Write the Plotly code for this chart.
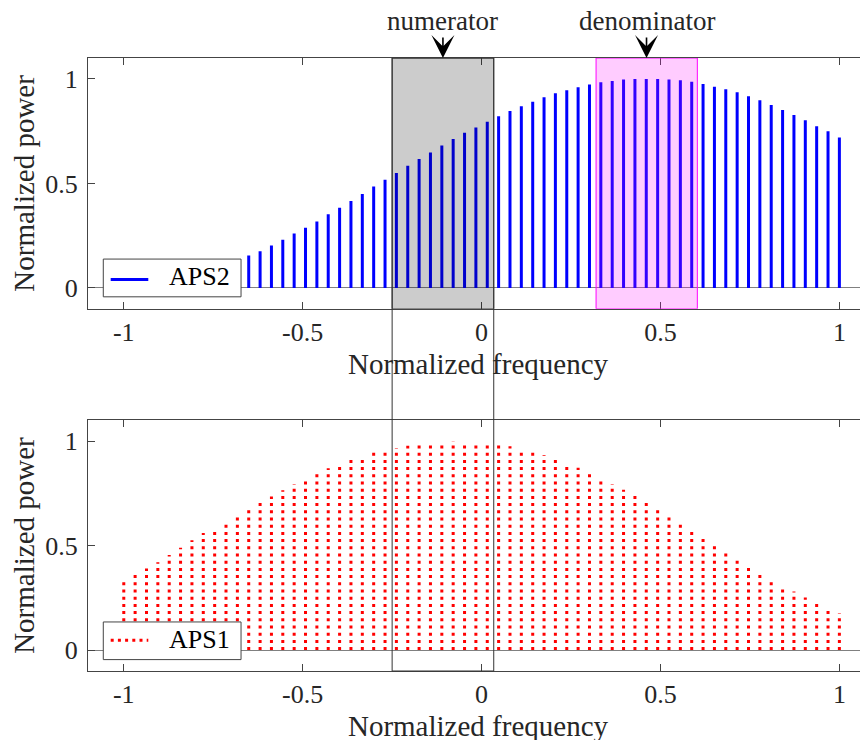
import plotly.graph_objects as go

# Normalized frequency grid (64 samples from -1 to 1)
freq = [-1.0000, -0.9683, -0.9365, -0.9048, -0.8730, -0.8413, -0.8095, -0.7778,
        -0.7460, -0.7143, -0.6825, -0.6508, -0.6190, -0.5873, -0.5556, -0.5238,
        -0.4921, -0.4603, -0.4286, -0.3968, -0.3651, -0.3333, -0.3016, -0.2698,
        -0.2381, -0.2063, -0.1746, -0.1429, -0.1111, -0.0794, -0.0476, -0.0159,
        0.0159, 0.0476, 0.0794, 0.1111, 0.1429, 0.1746, 0.2063, 0.2381,
        0.2698, 0.3016, 0.3333, 0.3651, 0.3968, 0.4286, 0.4603, 0.4921,
        0.5238, 0.5556, 0.5873, 0.6190, 0.6508, 0.6825, 0.7143, 0.7460,
        0.7778, 0.8095, 0.8413, 0.8730, 0.9048, 0.9365, 0.9683, 1.0000]

# APS2 (top panel) - visible stems start at index 11 (left ones hidden behind legend)
aps2_start = 11
aps2 = [0.155, 0.176, 0.203, 0.230, 0.261, 0.288, 0.318, 0.352, 0.384, 0.416,
        0.449, 0.485, 0.517, 0.550, 0.584, 0.617, 0.648, 0.682, 0.712, 0.742,
        0.767, 0.795, 0.821, 0.846, 0.869, 0.891, 0.912, 0.931, 0.946, 0.960,
        0.973, 0.984, 0.990, 0.997, 1.000, 1.000, 1.000, 0.997, 0.994, 0.986,
        0.976, 0.963, 0.951, 0.936, 0.917, 0.898, 0.875, 0.851, 0.827, 0.802,
        0.774, 0.750, 0.720]

# APS1 (bottom panel)
aps1 = [0.330, 0.360, 0.390, 0.420, 0.455, 0.490, 0.525, 0.560, 0.585, 0.615,
        0.645, 0.675, 0.705, 0.735, 0.765, 0.795, 0.820, 0.845, 0.870, 0.890,
        0.910, 0.925, 0.945, 0.955, 0.967, 0.978, 0.986, 0.992, 0.997, 1.000,
        0.999, 0.996, 0.991, 0.984, 0.975, 0.964, 0.950, 0.933, 0.915, 0.894,
        0.872, 0.848, 0.822, 0.795, 0.767, 0.738, 0.707, 0.676, 0.645, 0.611,
        0.578, 0.544, 0.509, 0.474, 0.440, 0.405, 0.372, 0.340, 0.310, 0.280,
        0.252, 0.225, 0.198, 0.175]

series_names = ["APS2", "APS1"]

# Highlighted bands
num_band = [-0.250, 0.034]
den_band = [0.320, 0.603]
num_arrow_x = -0.108
den_arrow_x = 0.461

xtick_vals = [-1, -0.5, 0, 0.5, 1]
xtick_text = ["-1", "-0.5", "0", "0.5", "1"]
ytick_vals = [0, 0.5, 1]
ytick_text = ["0", "0.5", "1"]

FONT = "Liberation Serif"
AX = "#262626"
BLUE_LINE = dict(color="#0000FF", width=3)
RED_LINE = dict(color="#FF0000", width=3, dash="3px,4.2px")


def stems(xs, ys):
    xx, yy = [], []
    for x, y in zip(xs, ys):
        xx += [x, x, None]
        yy += [0, y, None]
    return xx, yy


fig = go.Figure()

x2, y2 = stems(freq[aps2_start:], aps2)
fig.add_trace(go.Scatter(x=x2, y=y2, mode="lines", name=series_names[0],
                         line=BLUE_LINE, xaxis="x", yaxis="y",
                         showlegend=False, hoverinfo="skip"))

x1, y1 = stems(freq, aps1)
fig.add_trace(go.Scatter(x=x1, y=y1, mode="lines", name=series_names[1],
                         line=RED_LINE, xaxis="x2", yaxis="y2",
                         showlegend=False, hoverinfo="skip"))

xr = [-1.1, 1.08]
yr = [-0.1, 1.1]

common_x = dict(range=xr, tickvals=xtick_vals, ticktext=xtick_text,
                showline=True, linecolor="#444", linewidth=1, mirror="ticks",
                ticks="inside", ticklen=7, tickcolor="#444", showgrid=False,
                zeroline=False, tickfont=dict(family=FONT, size=26, color=AX),
                ticklabelstandoff=0,
                title=dict(text="Normalized frequency",
                           font=dict(family=FONT, size=29, color=AX), standoff=7),
                automargin=False)
common_y = dict(range=yr, tickvals=ytick_vals, ticktext=ytick_text,
                showline=True, linecolor="#444", linewidth=1, mirror=False,
                ticks="inside", ticklen=7, tickcolor="#444", showgrid=False,
                zeroline=True, zerolinecolor="#808080", zerolinewidth=1,
                tickfont=dict(family=FONT, size=26, color=AX),
                ticklabelstandoff=4,
                title=dict(text="Normalized power",
                           font=dict(family=FONT, size=29, color=AX), standoff=6),
                automargin=False)

# page body has an 8px offset; plot area spans screen x 88..868, y 58..670.7
top_dom = [0.5908, 1.0]
bot_dom = [0.0, 0.4092]

fig.update_layout(
    width=868, height=740,
    margin=dict(l=80, r=8, t=50, b=77.3),
    paper_bgcolor="white", plot_bgcolor="white",
    showlegend=False,
    xaxis=dict(domain=[0, 1], anchor="y", **common_x),
    yaxis=dict(domain=top_dom, anchor="x", **common_y),
    xaxis2=dict(domain=[0, 1], anchor="y2", **common_x),
    yaxis2=dict(domain=bot_dom, anchor="x2", **common_y),
)

shapes = [
    # numerator band (gray, top panel)
    dict(type="rect", xref="x", yref="y", x0=num_band[0], x1=num_band[1],
         y0=yr[0], y1=yr[1], fillcolor="rgba(0,0,0,0.2)",
         line=dict(color="#333", width=1), layer="above"),
    # denominator band (magenta, top panel)
    dict(type="rect", xref="x", yref="y", x0=den_band[0], x1=den_band[1],
         y0=yr[0], y1=yr[1], fillcolor="rgba(255,0,255,0.2)",
         line=dict(color="#FF00FF", width=1), layer="above"),
    # outline spanning both panels
    dict(type="rect", xref="x", yref="paper", x0=num_band[0], x1=num_band[1],
         y0=0, y1=1, fillcolor="rgba(0,0,0,0)",
         line=dict(color="#333", width=1), layer="above"),
]

# legend boxes (opaque, drawn over the stems)
legend_boxes = [
    (0.6720, 0.6104, 0.6388, 0.6440, BLUE_LINE, series_names[0]),
    (0.0800, 0.0186, 0.0501, 0.0515, RED_LINE, series_names[1]),
]
for ytop, ybot, yline, ytext, lstyle, name in legend_boxes:
    shapes.append(dict(type="rect", xref="paper", yref="paper",
                       x0=0.0196, x1=0.1962, y0=ybot, y1=ytop,
                       fillcolor="white", line=dict(color="#444", width=1),
                       layer="above"))
    shapes.append(dict(type="line", xref="paper", yref="paper",
                       x0=0.0291, x1=0.0773, y0=yline, y1=yline,
                       line=lstyle, layer="above"))
    fig.add_annotation(x=0.1848, y=ytext, xref="paper", yref="paper",
                       text=name, showarrow=False, xanchor="right",
                       yanchor="middle",
                       font=dict(family=FONT, size=26, color="black"))

fig.update_layout(shapes=shapes)

for xa, txt in [(num_arrow_x, "numerator"), (den_arrow_x, "denominator")]:
    fig.add_annotation(x=xa, y=yr[1], xref="x", yref="y", text=txt,
                       showarrow=True, ax=0, ay=-37, arrowhead=3,
                       arrowsize=2.4, arrowwidth=1.6, arrowcolor="black",
                       standoff=0,
                       font=dict(family=FONT, size=27, color=AX))

fig.write_html("out.html")
